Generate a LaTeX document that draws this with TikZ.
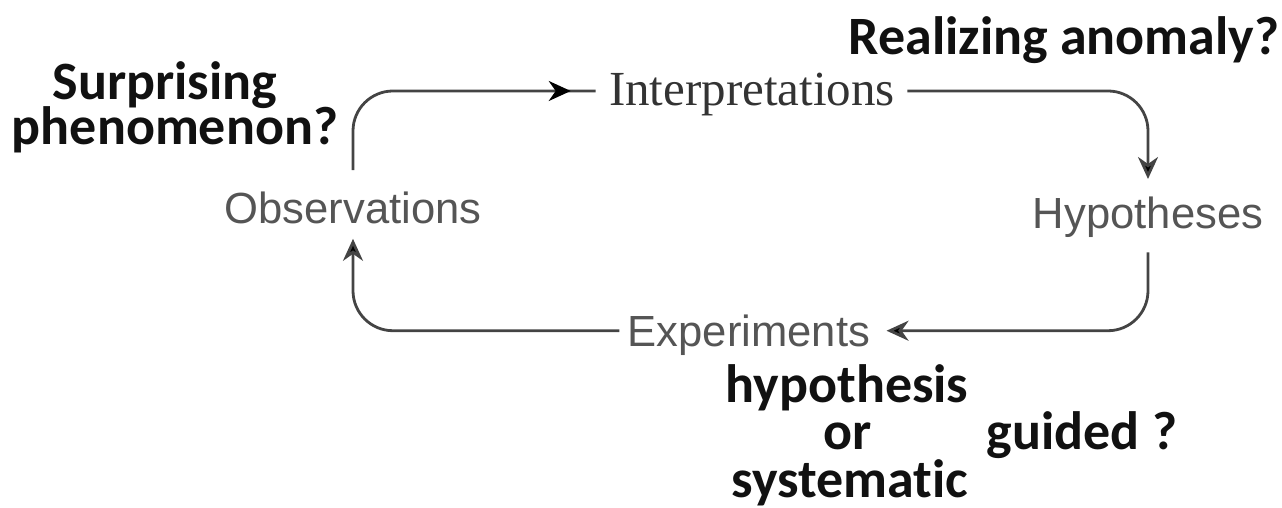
\documentclass[tikz,border=0pt]{standalone}
\usepackage{fontspec}
\setmainfont{Liberation Serif}
\newfontfamily\lsans{Liberation Sans}
\newfontfamily\carl[Ligatures=NoCommon]{Carlito}
\usetikzlibrary{arrows.meta,decorations.markings}
\definecolor{labgray}{HTML}{555555}
\definecolor{serifgray}{HTML}{333333}
\definecolor{linegray}{HTML}{444444}
\definecolor{boldblack}{HTML}{111111}
\tikzset{
  stage/.style={inner sep=0pt, anchor=base, text=labgray, font=\lsans\fontsize{21.8}{24}\selectfont},
  serifstage/.style={inner sep=0pt, anchor=base, text=serifgray, font=\fontsize{24.5}{27}\selectfont},
  question/.style={inner sep=0pt, anchor=base, text=boldblack, font=\carl\bfseries\fontsize{27}{30}\selectfont},
  headtip/.tip={Stealth[length=11pt,width=10pt,inset=3.5pt,fill=black]},
  flowline/.style={draw=linegray, line width=1.4pt, rounded corners=20pt},
  flow/.style={flowline, -headtip},
  midflow/.style={flowline, postaction={decorate},
    decoration={markings, mark=at position -12.5pt with {\arrow[black]{headtip}}}},
}
\begin{document}
\begin{tikzpicture}[x=0.5pt,y=-0.5pt]
\useasboundingbox (0,0) rectangle (1282,508);
% stages
\node[stage] (obs) at (353,224) {Observations};
\node[serifstage] (interp) at (752,106) {Interpretations};
\node[stage] (hyp) at (1148,229) {Hypotheses};
\node[stage] (exp) at (749,346) {Experiments};
% questions
\node[question] (surp1) at (165,100) {Surprising};
\node[question] (surp2) at (175,145) {phenomenon?};
\node[question] (real) at (1064,55) {Realizing anomaly?};
\node[question] (hyp1) at (847,402) {hypothesis};
\node[question] (hyp2) at (848,450) {or};
\node[question] (hyp3) at (850,497) {systematic};
\node[question] (guid) at (1082,450) {guided ?};
% connectors
\draw[midflow] ([yshift=11pt]obs.north) |- ([xshift=-6.5pt,yshift=2pt]interp.west);
\draw[flow] ([xshift=6pt,yshift=2pt]interp.east) -| ([yshift=9pt]hyp.north);
\draw[flow] ([yshift=-7pt]hyp.south) |- ([xshift=8pt,yshift=2pt]exp.east);
\draw[flow] ([xshift=-4pt,yshift=2pt]exp.west) -| ([yshift=-7pt]obs.south);
\end{tikzpicture}
\end{document}
